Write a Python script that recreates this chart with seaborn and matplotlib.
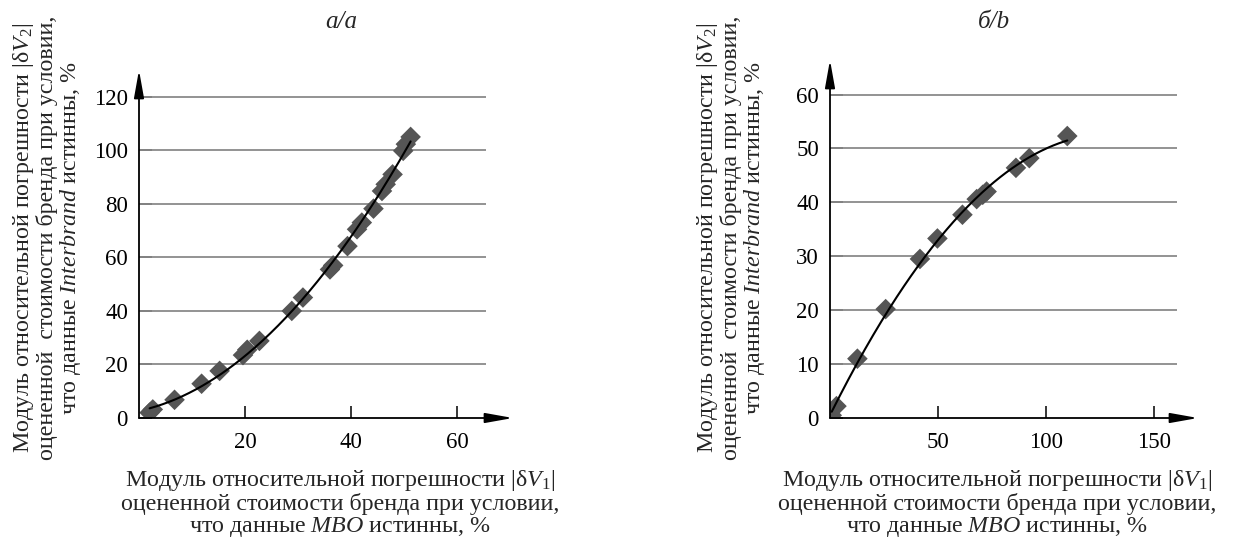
import numpy as np
import pandas as pd
import matplotlib
matplotlib.use("Agg")
import matplotlib.pyplot as plt
import seaborn as sns

# ---- data ----
a_x = [2.0, 2.6, 6.7, 11.8, 15.2, 19.6, 20.4, 22.7, 28.8, 30.9, 36.0, 36.6,
       39.3, 41.1, 42.0, 44.2, 45.8, 46.5, 47.8, 49.8, 50.3, 51.2]
a_y = [2.0, 3.2, 6.8, 12.8, 17.6, 23.5, 25.5, 28.8, 40.0, 45.0, 55.5, 57.0,
       64.2, 70.5, 73.0, 78.2, 84.8, 87.3, 91.0, 99.8, 102.3, 105.0]
b_x = [0.8, 3.0, 12.7, 25.8, 41.7, 49.8, 61.4, 68.0, 70.8, 72.6, 86.2, 92.4, 110.0]
b_y = [0.5, 2.2, 11.0, 20.2, 29.5, 33.3, 37.7, 40.6, 41.4, 42.0, 46.4, 48.2, 52.3]

a_yticks = [0, 20, 40, 60, 80, 100, 120]
a_xticks = [20, 40, 60]
b_yticks = [0, 10, 20, 30, 40, 50, 60]
b_xticks = [50, 100, 150]

titles = ["a/a", "б/b"]
xlabel = ("Модуль относительной погрешности |δ$V_1$|\n"
          "оцененной стоимости бренда при условии,\n"
          "что данные $\\mathit{MBO}$ истинны, %")
ylabel = ("Модуль относительной погрешности |δ$V_2$|\n"
          "оцененной  стоимости бренда при условии,\n"
          "что данные $\\mathit{Interbrand}$ истинны, %")

sns.set_theme(style="white")
plt.rcParams["font.family"] = ["Liberation Serif", "DejaVu Serif"]
plt.rcParams["mathtext.fontset"] = "custom"
plt.rcParams["mathtext.rm"] = "Liberation Serif"
plt.rcParams["mathtext.it"] = "Liberation Serif:italic"
plt.rcParams["mathtext.bf"] = "Liberation Serif:bold"

W, H = 1259, 544
fig = plt.figure(figsize=(W / 100, H / 100), dpi=100)

def px_axes(x0, x1, y0, y1):
    # x0,x1 pixel columns; y0 bottom pixel row, y1 top pixel row
    return fig.add_axes([x0 / W, (H - y0) / H, (x1 - x0) / W, (y0 - y1) / H])

panels = [
    dict(x=a_x, y=a_y, xlim=(0, 70.5), ylim=(0, 130), grid_end=65.5,
         xt=a_xticks, yt=a_yticks, deg=2, rect=(139, 513, 418, 70),
         title_x=341, xl_x=340, yl_x=47),
    dict(x=b_x, y=b_y, xlim=(0, 170.6), ylim=(0, 66.4), grid_end=160.8,
         xt=b_xticks, yt=b_yticks, deg=2, rect=(830, 1198, 418, 60),
         title_x=994, xl_x=997, yl_x=731),
]

for p, title in zip(panels, titles):
    ax = px_axes(*p["rect"])
    df = pd.DataFrame({"x": p["x"], "y": p["y"]})
    ax.set_xlim(*p["xlim"])
    ax.set_ylim(*p["ylim"])
    # horizontal grid lines that stop short of the arrow
    ax.hlines([t for t in p["yt"] if t > 0], 0, p["grid_end"],
              color="#8a8a8a", lw=1.3, zorder=1)
    sns.scatterplot(data=df, x="x", y="y", marker="D", s=110, color="#555555",
                    edgecolor="none", linewidth=0, ax=ax, zorder=3, legend=False)
    coef = np.polyfit(df["x"], df["y"], p["deg"])
    xs = np.linspace(min(p["x"]), max(p["x"]), 200)
    sns.lineplot(x=xs, y=np.polyval(coef, xs), color="black", lw=1.5,
                 ax=ax, zorder=4, legend=False)
    for s in ax.spines.values():
        s.set_visible(False)
    ax.annotate("", xy=(1, 0), xytext=(0, 0), xycoords="axes fraction",
                arrowprops=dict(arrowstyle="-|>,head_length=1.4,head_width=0.25",
                                color="black", lw=1.3, shrinkA=0, shrinkB=0))
    ax.annotate("", xy=(0, 1), xytext=(0, 0), xycoords="axes fraction",
                arrowprops=dict(arrowstyle="-|>,head_length=1.4,head_width=0.25",
                                color="black", lw=1.3, shrinkA=0, shrinkB=0))
    ax.set_xticks(p["xt"])
    ax.set_yticks(p["yt"])
    ax.tick_params(axis="both", direction="in", length=9, width=1.1,
                   color="black", labelsize=16.5, labelcolor="black")
    ax.tick_params(axis="y", pad=8, left=True)
    ax.tick_params(axis="x", pad=10, bottom=True)
    ax.set_xlabel("")
    ax.set_ylabel("")
    ax.set_facecolor("none")
    ax.grid(False)
    fig.text(p["title_x"] / W, 1 - 22 / H, title, ha="center", va="center",
             fontsize=18, fontstyle="italic")
    fig.text(p["xl_x"] / W, 1 - 468 / H, xlabel, ha="center", va="top",
             fontsize=17.3, linespacing=1.0, multialignment="center")
    fig.text(p["yl_x"] / W, 1 - 238 / H, ylabel, ha="center", va="center",
             rotation=90, fontsize=17.3, linespacing=1.0, multialignment="center")

fig.savefig("out.png", dpi=100)
